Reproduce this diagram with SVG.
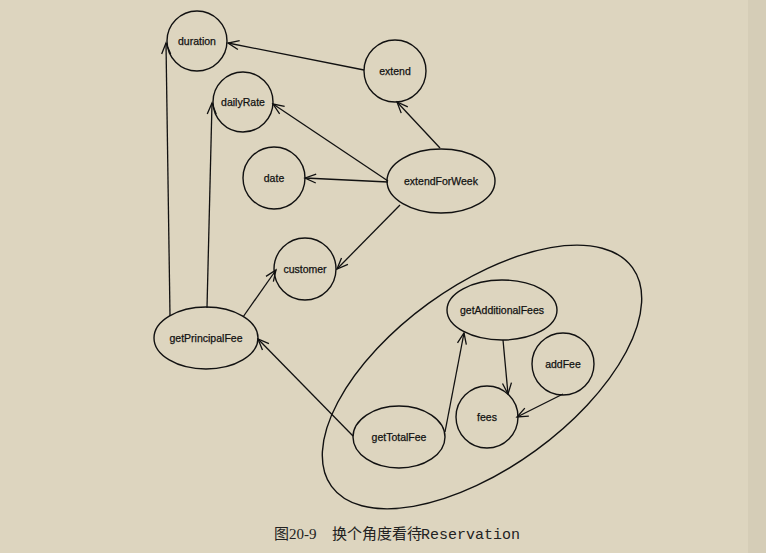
<svg xmlns="http://www.w3.org/2000/svg" width="766" height="553" viewBox="0 0 766 553">
<style>
.n{fill:none;stroke:#111;stroke-width:1.4}
.t{font-family:"Liberation Sans",Arial,sans-serif;font-size:10.5px;fill:#111;text-anchor:middle;stroke:#111;stroke-width:0.25}
.e{fill:none;stroke:#111;stroke-width:1.3;marker-end:url(#a)}
.cap{font-size:15px;fill:#222}
</style>
<defs>
<marker id="a" markerUnits="userSpaceOnUse" markerWidth="14" markerHeight="12" viewBox="0 0 14 12" refX="12" refY="6" orient="auto">
<path d="M1,1.5 L12,6 L1,10.5" fill="none" stroke="#111" stroke-width="1.3"/>
</marker>
</defs>
<rect width="766" height="553" fill="#ddd5bf"/>
<rect x="748" y="0" width="18" height="553" fill="#d5cdb7"/>
<g id="group-boundary"><ellipse class="n" cx="482" cy="377" rx="186" ry="91" transform="rotate(-36 482 377)"/></g>
<g id="duration"><circle class="n" cx="197" cy="41" r="30"/><text class="t" x="197" y="45">duration</text></g>
<g id="extend"><circle class="n" cx="395" cy="71" r="31"/><text class="t" x="395" y="75">extend</text></g>
<g id="dailyRate"><circle class="n" cx="243" cy="102" r="30"/><text class="t" x="243" y="106">dailyRate</text></g>
<g id="date"><circle class="n" cx="274" cy="178" r="31"/><text class="t" x="274" y="182">date</text></g>
<g id="extendForWeek"><ellipse class="n" cx="441" cy="181" rx="54" ry="32"/><text class="t" x="441" y="185">extendForWeek</text></g>
<g id="customer"><circle class="n" cx="305" cy="269" r="31"/><text class="t" x="305" y="273">customer</text></g>
<g id="getPrincipalFee"><ellipse class="n" cx="206" cy="338" rx="52" ry="31"/><text class="t" x="206" y="342">getPrincipalFee</text></g>
<g id="getAdditionalFees"><ellipse class="n" cx="502" cy="310" rx="55" ry="30"/><text class="t" x="502" y="314">getAdditionalFees</text></g>
<g id="addFee"><circle class="n" cx="563" cy="364" r="31"/><text class="t" x="563" y="368">addFee</text></g>
<g id="fees"><circle class="n" cx="487" cy="417" r="31"/><text class="t" x="487" y="421">fees</text></g>
<g id="getTotalFee"><ellipse class="n" cx="399" cy="437" rx="46" ry="31"/><text class="t" x="399" y="441">getTotalFee</text></g>
<g id="connectors">
<line class="e" x1="364" y1="70" x2="228" y2="43"/>
<line class="e" x1="440" y1="148" x2="397" y2="102"/>
<line class="e" x1="388" y1="181" x2="273" y2="104"/>
<line class="e" x1="388" y1="182" x2="305" y2="178"/>
<line class="e" x1="400" y1="205" x2="337" y2="269"/>
<line class="e" x1="170" y1="316" x2="166" y2="43"/>
<line class="e" x1="207" y1="308" x2="212" y2="103"/>
<line class="e" x1="243" y1="317" x2="276" y2="270"/>
<line class="e" x1="353" y1="436" x2="258" y2="339"/>
<line class="e" x1="445" y1="432" x2="464" y2="333"/>
<line class="e" x1="503" y1="340" x2="508" y2="394"/>
<line class="e" x1="563" y1="394" x2="517" y2="417"/>
</g>
<g id="caption">
<text class="cap" x="274" y="539" font-size="16" font-family="'Liberation Serif','Noto Sans CJK SC',serif">图20-9</text>
<text class="cap" x="332" y="539" font-family="'Noto Sans CJK SC',serif">换个角度看待</text>
<text class="cap" x="421" y="539" font-size="15.5" font-family="'Liberation Mono',monospace">Reservation</text>
</g>
</svg>
